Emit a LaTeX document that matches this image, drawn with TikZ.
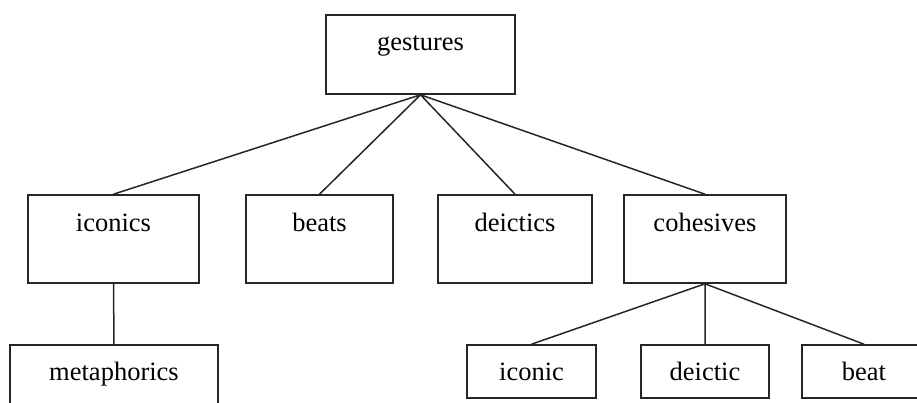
\documentclass[tikz,border=0pt]{standalone}
\usepackage{fontspec}
\setmainfont{Liberation Serif}

\begin{document}
\begin{tikzpicture}[x=1pt, y=-1pt,
  every node/.style={font=\fontsize{26.5}{30}\selectfont},
  cat/.style={draw=black!85, line width=1.6pt, inner sep=0pt},
  lvlone/.style={cat, text height=36pt, text depth=43pt},
  lvltwo/.style={cat, text height=36pt, text depth=52pt},
  lvlthree/.style={cat, text height=35pt, text depth=18pt},
  link/.style={draw=black!85, line width=1.5pt}]
  \path[use as bounding box, clip] (0,0) rectangle (917,403);
  \node[lvlone, minimum width=189pt] (gest) at (420.5,54.5) {gestures};
  \node[lvltwo, minimum width=171pt] (ics) at (113.5,239) {iconics};
  \node[lvltwo, minimum width=147pt] (bts) at (319.5,239) {beats};
  \node[lvltwo, minimum width=154pt] (dcs) at (515,239) {deictics};
  \node[lvltwo, minimum width=162pt] (coh) at (705,239) {cohesives};
  \node[cat, text height=35pt, text depth=40pt, minimum width=208pt] (meta) at (114,382.5) {metaphorics};
  \node[lvlthree, minimum width=129pt] (ic) at (531.5,371.5) {iconic};
  \node[lvlthree, minimum width=128pt] (dc) at (705,371.5) {deictic};
  \node[lvlthree, minimum width=124pt] (bt) at (864,371.5) {beat};
  \draw[link] (gest.south) -- (ics.north) (gest.south) -- (bts.north)
    (gest.south) -- (dcs.north) (gest.south) -- (coh.north);
  \draw[link] (ics.south) -- (meta.north);
  \draw[link] (coh.south) -- (ic.north) (coh.south) -- (dc.north)
    (coh.south) -- (bt.north);
\end{tikzpicture}
\end{document}
